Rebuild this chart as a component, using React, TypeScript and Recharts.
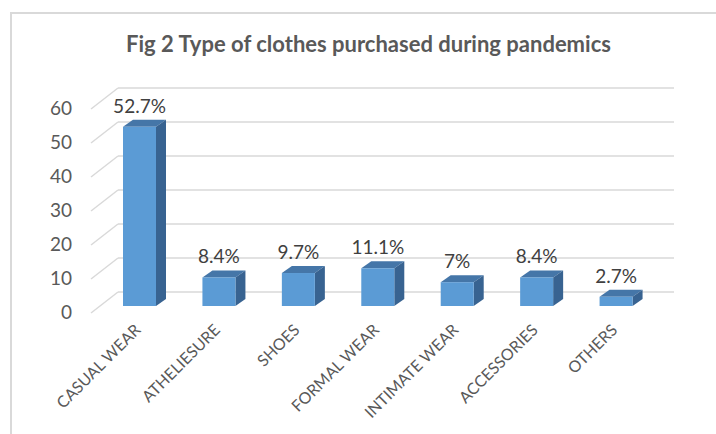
import React from 'react';
import { BarChart, Bar, XAxis, YAxis, CartesianGrid, LabelList } from 'recharts';

const categories = [
  'CASUAL WEAR',
  'ATHELIESURE',
  'SHOES',
  'FORMAL WEAR',
  'INTIMATE WEAR',
  'ACCESSORIES',
  'OTHERS',
];
const shares = [52.7, 8.4, 9.7, 11.1, 7, 8.4, 2.7];
const yTicks = [0, 10, 20, 30, 40, 50, 60];

const data = categories.map((name, i) => ({ name, value: shares[i] }));

// depth of the 3d box: front plane -> bar front -> bar back -> back wall
const DX = 9;
const DY = 7;

const FONT = 'Lato, "Open Sans", sans-serif';

function GridLine(props: any) {
  const { x1, x2, y1 } = props;
  return (
    <g>
      <line x1={x1 - DX} y1={y1 + DY} x2={x1 + 2 * DX} y2={y1 - 2 * DY} stroke="#d9d9d9" strokeWidth={1.5} />
      <line x1={x1 + 2 * DX} y1={y1 - 2 * DY} x2={x2 + 2 * DX} y2={y1 - 2 * DY} stroke="#d9d9d9" strokeWidth={1.5} />
    </g>
  );
}

function Box3D(props: any) {
  const { x, y, width, height } = props;
  const d = 10;
  const e = 7;
  return (
    <g>
      <polygon
        points={`${x},${y} ${x + d},${y - e} ${x + width + d},${y - e} ${x + width},${y}`}
        fill="#4576a8"
      />
      <polygon
        points={`${x + width},${y} ${x + width + d},${y - e} ${x + width + d},${y + height - e} ${x + width},${y + height}`}
        fill="#386391"
      />
      <rect x={x} y={y} width={width} height={height} fill="#5b9bd5" />
    </g>
  );
}

function ValueLabel(props: any) {
  const { x, y, width, value } = props;
  return (
    <text x={x + width / 2} y={y - 14} textAnchor="middle" fontSize={19} fill="#404040" fontFamily={FONT}>
      {value}%
    </text>
  );
}

function CategoryTick(props: any) {
  const { x, y, payload } = props;
  const ax = x + 2;
  const ay = y + 17;
  return (
    <text
      x={ax}
      y={ay}
      transform={`rotate(-45 ${ax} ${ay})`}
      textAnchor="end"
      fontSize={16}
      fill="#595959"
      fontFamily={FONT}
    >
      {payload.value}
    </text>
  );
}

function ValueTick(props: any) {
  const { y, payload } = props;
  return (
    <text x={72} y={y + DY + 6} textAnchor="end" fontSize={19} fill="#595959" fontFamily={FONT}>
      {payload.value}
    </text>
  );
}

export default function App() {
  return (
    <div style={{ position: 'absolute', left: 0, top: 0, width: 716, height: 434, background: '#fff', overflow: 'hidden' }}>
      <div
        style={{
          position: 'absolute',
          left: 10,
          top: 12,
          width: 720,
          height: 440,
          borderTop: '2px solid #d9d9d9',
          borderLeft: '2px solid #d9d9d9',
        }}
      />
      <div
        style={{
          position: 'absolute',
          left: 0,
          top: 30,
          width: 737,
          textAlign: 'center',
          fontFamily: FONT,
          fontWeight: 700,
          fontSize: 22,
          color: '#595959',
        }}
      >
        Fig 2 Type of clothes purchased during pandemics
      </div>
      <div style={{ position: 'absolute', left: 0, top: 0 }}>
        <BarChart width={716} height={434} data={data} margin={{ top: 102, right: 60, bottom: 28, left: 40 }}>
          <CartesianGrid vertical={false} horizontal={(p: any) => <GridLine key={p.key} {...p} />} />
          <XAxis
            dataKey="name"
            axisLine={false}
            tickLine={false}
            interval={0}
            height={100}
            tick={<CategoryTick />}
          />
          <YAxis
            domain={[0, 60]}
            ticks={yTicks}
            axisLine={false}
            tickLine={false}
            width={60}
            tick={<ValueTick />}
          />
          <Bar dataKey="value" barSize={33} shape={<Box3D />} isAnimationActive={false}>
            <LabelList dataKey="value" content={<ValueLabel />} />
          </Bar>
        </BarChart>
      </div>
    </div>
  );
}
